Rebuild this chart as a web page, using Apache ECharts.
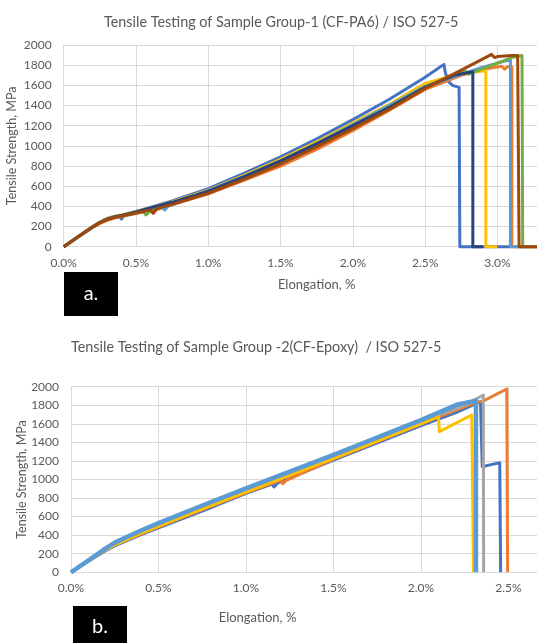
<!DOCTYPE html>
<html>
<head>
<meta charset="utf-8">
<script src="https://cdn.jsdelivr.net/npm/echarts@6/dist/echarts.min.js"></script>
<style>
  html, body { margin: 0; padding: 0; background: #fff; }
  #main { width: 537px; height: 643px; }
</style>
</head>
<body>
<div id="main"></div>
<script>
var myChart = echarts.init(document.getElementById('main'));

// titles and axis names
var titleA = 'Tensile Testing of Sample Group-1 (CF-PA6) / ISO 527-5';
var titleB = 'Tensile Testing of Sample Group -2(CF-Epoxy)  / ISO 527-5';
var xName = 'Elongation, %';
var yName = 'Tensile Strength, MPa';

// group 1 (CF-PA6): [elongation %, strength MPa]
var pa6Blue = [[0,0],[0.1,100],[0.2,200],[0.25,245],[0.3,280],[0.35,300],[0.38,310],[0.4,275],[0.42,315],[0.5,350],[0.6,390],[0.75,455],[1.0,575],[1.25,730],[1.5,890],[1.75,1070],[2.0,1260],[2.25,1460],[2.5,1680],[2.63,1808],[2.64,1725],[2.66,1640],[2.69,1600],[2.735,1580],[2.74,0],[3.09,0]];
var pa6Orange = [[0,0],[0.1,95],[0.2,190],[0.25,230],[0.3,262],[0.35,285],[0.4,300],[0.5,330],[0.6,360],[0.62,330],[0.64,365],[0.75,415],[1.0,525],[1.25,660],[1.5,800],[1.75,965],[2.0,1150],[2.25,1350],[2.5,1560],[2.75,1700],[2.9,1760],[3.03,1790],[3.05,1760],[3.07,1785],[3.1,1785],[3.1,0],[3.4,0]];
var pa6Yellow = [[0,0],[0.1,100],[0.2,200],[0.25,245],[0.3,278],[0.35,300],[0.4,315],[0.5,350],[0.6,385],[0.75,445],[1.0,560],[1.25,710],[1.5,865],[1.75,1040],[2.0,1225],[2.25,1410],[2.5,1620],[2.75,1720],[2.92,1745],[2.92,0],[3.0,0]];
var pa6LightBlue = [[0,0],[0.1,98],[0.2,196],[0.25,240],[0.3,272],[0.35,295],[0.4,310],[0.5,345],[0.6,380],[0.68,395],[0.7,365],[0.72,400],[1.0,555],[1.25,700],[1.5,850],[1.75,1025],[2.0,1210],[2.25,1400],[2.5,1590],[2.75,1710],[2.9,1780],[3.05,1840],[3.09,1850],[3.09,0],[3.2,0]];
var pa6Green = [[0,0],[0.1,98],[0.2,196],[0.25,238],[0.3,270],[0.35,292],[0.4,305],[0.5,335],[0.55,345],[0.57,315],[0.6,355],[0.75,425],[1.0,540],[1.25,685],[1.5,840],[1.75,1010],[2.0,1195],[2.25,1385],[2.5,1580],[2.72,1720],[2.78,1740],[2.8,1710],[2.85,1740],[3.0,1820],[3.1,1875],[3.17,1895],[3.175,0],[3.4,0]];
var pa6DarkBlue = [[0,0],[0.1,98],[0.2,196],[0.25,240],[0.3,272],[0.35,295],[0.4,310],[0.5,345],[0.6,385],[0.75,440],[1.0,550],[1.25,695],[1.5,850],[1.75,1020],[2.0,1200],[2.25,1380],[2.5,1580],[2.7,1700],[2.83,1735],[2.83,0],[2.9,0]];
var pa6Brown = [[0,0],[0.1,98],[0.2,195],[0.25,236],[0.3,268],[0.35,290],[0.4,305],[0.5,335],[0.6,365],[0.62,335],[0.64,375],[0.75,420],[1.0,530],[1.25,670],[1.5,820],[1.75,990],[2.0,1170],[2.25,1360],[2.5,1570],[2.75,1750],[2.96,1907],[2.98,1875],[3.0,1885],[3.1,1895],[3.14,1895],[3.15,0],[3.4,0]];

// group 2 (CF-Epoxy)
var epxBlue = [[0,0],[0.1,120],[0.2,235],[0.25,285],[0.3,325],[0.4,405],[0.5,480],[0.75,660],[1.0,850],[1.15,950],[1.16,920],[1.18,960],[1.5,1210],[2.0,1580],[2.2,1720],[2.34,1840],[2.35,1138],[2.4,1160],[2.45,1180],[2.455,0]];
var epxOrange = [[0,0],[0.1,125],[0.2,245],[0.25,295],[0.3,335],[0.4,415],[0.5,490],[0.75,675],[1.0,860],[1.2,990],[1.21,955],[1.23,990],[1.5,1220],[2.0,1600],[2.3,1820],[2.36,1850],[2.49,1975],[2.495,0]];
var epxGray = [[0,0],[0.1,125],[0.2,250],[0.25,305],[0.3,345],[0.4,430],[0.5,505],[0.75,690],[1.0,880],[1.5,1240],[2.0,1620],[2.25,1800],[2.356,1910],[2.358,0]];
var epxYellow = [[0,0],[0.1,125],[0.2,245],[0.25,295],[0.3,335],[0.4,420],[0.5,495],[0.75,680],[1.0,865],[1.5,1225],[2.0,1600],[2.1,1677],[2.105,1515],[2.29,1695],[2.3,0]];
var epxLightBlue = [[0,0],[0.1,130],[0.2,260],[0.25,320],[0.3,365],[0.4,450],[0.5,530],[0.75,720],[1.0,905],[1.5,1265],[2.0,1640],[2.21,1810],[2.22,1790],[2.3,1845],[2.314,1850],[2.314,0]];

var font = 'Lato, "Open Sans", sans-serif';
var txt = '#595959';
var gridColor = '#d9d9d9';

function xAxisCfg(gridIndex, max, namePad, nameGap) {
    return {
        type: 'value', gridIndex: gridIndex, min: 0, max: max, interval: 0.5,
        name: xName, nameLocation: 'middle', nameGap: nameGap, nameMoveOverlap: false,
        nameTextStyle: { color: txt, fontFamily: font, fontSize: 13, padding: namePad },
        axisLine: { show: false }, axisTick: { show: false },
        axisLabel: { color: txt, fontFamily: font, fontSize: 12, margin: 10,
            formatter: function(v) { return v.toFixed(1) + '%'; } },
        splitLine: { show: true, lineStyle: { color: gridColor, width: 1 } }
    };
}
function yAxisCfg(gridIndex, nameGap) {
    return {
        type: 'value', gridIndex: gridIndex, min: 0, max: 2000, interval: 200,
        name: yName, nameLocation: 'middle', nameGap: nameGap, nameRotate: 90, nameMoveOverlap: false,
        nameTextStyle: { color: txt, fontFamily: font, fontSize: 12.5 },
        axisLine: { show: false }, axisTick: { show: false },
        axisLabel: { color: txt, fontFamily: font, fontSize: 12, margin: 12,
            formatter: function(v) { return String(v); } },
        splitLine: { show: true, lineStyle: { color: gridColor, width: 1 } }
    };
}
function line(data, color, idx, w) {
    return {
        type: 'line', data: data, xAxisIndex: idx, yAxisIndex: idx,
        showSymbol: false, symbol: 'none', clip: false, animation: false,
        lineStyle: { color: color, width: w || 3, join: 'round' }
    };
}

var option = {
    backgroundColor: '#fff',
    title: [
        { text: titleA, left: 99, top: 10, textStyle: { color: txt, fontFamily: font, fontSize: 14.4, fontWeight: 'normal' } },
        { text: titleB, left: 66, top: 335, textStyle: { color: txt, fontFamily: font, fontSize: 14.4, fontWeight: 'normal' } }
    ],
    grid: [
        { left: 63.7, top: 45, width: 506, height: 201.7, outerBoundsMode: 'none', containLabel: false },
        { left: 71, top: 386.7, width: 525, height: 185.6, outerBoundsMode: 'none', containLabel: false }
    ],
    xAxis: [xAxisCfg(0, 3.5, [0, 0, 0, 0], 32), xAxisCfg(1, 3.0, [0, 152, 0, 0], 39)],
    yAxis: [yAxisCfg(0, 45), yAxisCfg(1, 43)],
    series: [
        line(pa6Blue, '#4472c4', 0),
        line(pa6Orange, '#ed7d31', 0),
        line(pa6Yellow, '#ffc000', 0),
        line(pa6LightBlue, '#5b9bd5', 0),
        line(pa6Green, '#70ad47', 0),
        line(pa6DarkBlue, '#264478', 0),
        line(pa6Brown, '#9e480e', 0),
        line(epxBlue, '#4472c4', 1),
        line(epxOrange, '#ed7d31', 1),
        line(epxGray, '#a5a5a5', 1),
        line(epxYellow, '#ffc000', 1),
        line(epxLightBlue, '#5b9bd5', 1, 4.5)
    ],
    graphic: [
        { type: 'rect', shape: { x: 64, y: 272, width: 54, height: 44 }, style: { fill: '#000' } },
        { type: 'text', x: 91, y: 294, style: { text: 'a.', fill: '#fff', font: '20px ' + font, align: 'center', verticalAlign: 'middle' } },
        { type: 'rect', shape: { x: 73, y: 606, width: 54, height: 44 }, style: { fill: '#000' } },
        { type: 'text', x: 100, y: 627, style: { text: 'b.', fill: '#fff', font: '20px ' + font, align: 'center', verticalAlign: 'middle' } }
    ]
};
myChart.setOption(option);
</script>
</body>
</html>
